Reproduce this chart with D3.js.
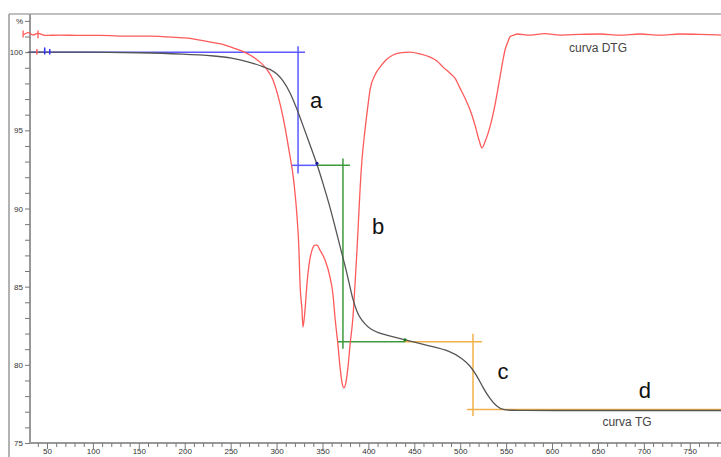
<!DOCTYPE html>
<html>
<head>
<meta charset="utf-8">
<script src="https://cdn.jsdelivr.net/npm/d3@7"></script>
<style>
  html, body { margin: 0; padding: 0; background: #fff; }
  svg { display: block; font-family: "Liberation Sans", Arial, sans-serif; }
</style>
</head>
<body>
<svg id="chart" width="721" height="457"></svg>
<script>
// ---------------- data ----------------
// TG curve: temperature (°C) and residual mass (%)
const tgTemp = [29, 50, 100, 150, 200, 235, 250, 271, 284, 293, 300.5, 307, 314.7, 322.3, 328.8, 336.5, 344, 350.6, 358.2, 364.7, 371.2, 377.8, 383.2, 387.6, 390.9, 396.3, 401.8, 410.5, 420.3, 439.9, 467.1, 488.9, 503, 510.7, 518.3, 524.8, 532.4, 540, 546.6, 555, 565, 600, 650, 700, 750, 784];
const tgMass = [100, 100, 100, 99.97, 99.88, 99.75, 99.65, 99.36, 99.1, 98.92, 98.62, 98.2, 97.45, 96.35, 95.3, 94.05, 92.85, 91.6, 90.1, 88.6, 87.1, 85.6, 84.1, 83.4, 83.0, 82.6, 82.3, 82.05, 81.9, 81.6, 81.2, 80.9, 80.38, 79.94, 79.3, 78.53, 77.82, 77.31, 77.12, 77.09, 77.08, 77.08, 77.08, 77.08, 77.08, 77.08];

// DTG curve: temperature (°C) and derivative (arbitrary units, 0 = baseline)
const dtgTemp = [24, 29.3, 34.8, 40.2, 47.8, 64.2, 85.9, 107.7, 140.4, 162.2, 180.7, 200.3, 216.6, 233, 243.9, 252.6, 262.4, 271.1, 277.6, 282, 287.4, 290.7, 296.1, 301.6, 307, 313.5, 319, 322.3, 324.4, 325.5, 327.7, 328.8, 331, 333.2, 335.3, 338.6, 341.9, 344, 347.3, 352.8, 358.2, 361.5, 363.6, 366.9, 369.1, 371.2, 373.4, 375.6, 377.8, 380, 383.2, 385.4, 387.6, 389.8, 390.9, 393, 396.3, 399.6, 401.8, 407.2, 412.7, 419.2, 426.8, 434.4, 445.3, 456.2, 467.1, 474.7, 481.3, 488.9, 494.3, 499.8, 505.2, 510.7, 516.1, 520.5, 523.7, 527, 532.4, 537.9, 543.3, 546.6, 548.8, 552, 554.2, 558.6, 561.8, 576, 592, 608.7, 630, 652.2, 674, 695.8, 717.6, 739.4, 761.3, 784];
const dtgVal = [-0.003, 0.004, -0.003, 0.002, -0.004, -0.003, -0.004, -0.004, -0.006, -0.006, -0.008, -0.011, -0.017, -0.025, -0.031, -0.039, -0.048, -0.059, -0.070, -0.079, -0.093, -0.104, -0.129, -0.174, -0.233, -0.326, -0.419, -0.514, -0.607, -0.699, -0.775, -0.823, -0.775, -0.699, -0.649, -0.607, -0.593, -0.593, -0.607, -0.635, -0.683, -0.733, -0.795, -0.874, -0.935, -0.978, -0.994, -0.978, -0.935, -0.874, -0.795, -0.705, -0.607, -0.494, -0.438, -0.354, -0.270, -0.199, -0.157, -0.115, -0.093, -0.073, -0.059, -0.053, -0.051, -0.056, -0.065, -0.076, -0.093, -0.110, -0.124, -0.152, -0.180, -0.213, -0.256, -0.298, -0.320, -0.303, -0.261, -0.199, -0.121, -0.073, -0.045, -0.022, -0.008, -0.003, 0.0, -0.003, 0.001, -0.003, -0.001, 0.0, -0.003, 0.0, -0.003, 0.0, -0.001, -0.003];

// Step construction lines (temperature, mass %)
const stepA = { color: "#5a5aff", h1: [[31.5, 100], [331, 100]], v: [[323.4, 100.38], [323.4, 92.24]], h2: [[315.7, 92.76], [344, 92.76]] };
const stepB = { color: "#3c9a3c", h1: [[344, 92.76], [380, 92.76]], v: [[372.3, 93.2], [372.3, 81.03]], h2: [[365.8, 81.47], [439.9, 81.47]] };
const stepC = { color: "#f2b04a", h1: [[439.9, 81.47], [523.7, 81.47]], v: [[513.9, 81.99], [513.9, 76.73]], h2: [[507.4, 77.15], [784, 77.15]] };
const steps = [stepA, stepB, stepC];

const stepLabels = ["a", "b", "c", "d"];
const stepLabelPos = [[343, 96.45], [410.5, 88.4], [546.6, 79.1], [701, 77.85]];

const yMajor = [75, 80, 85, 90, 95, 100];
const xMajor = [50, 100, 150, 200, 250, 300, 350, 400, 450, 500, 550, 600, 650, 700, 750];

// ---------------- scales ----------------
const svg = d3.select("#chart");
const x = d3.scaleLinear().domain([31.5, 784]).range([30, 721]);
const y = d3.scaleLinear().domain([75, 102.44]).range([443, 14]);
const yD = d3.scaleLinear().domain([0, -1]).range([34, 390]);

// frame
svg.append("line").attr("x1", 9).attr("y1", 14).attr("x2", 721).attr("y2", 14)
  .attr("stroke", "#aaa").attr("stroke-width", 1.5);
svg.append("line").attr("x1", 9).attr("y1", 14).attr("x2", 9).attr("y2", 457)
  .attr("stroke", "#999").attr("stroke-width", 1.5);

// ---------------- axes ----------------
const yTicks = d3.range(75, 103, 1);
const yAxis = d3.axisLeft(y).tickValues(yTicks).tickSize(5).tickPadding(2)
  .tickFormat(d => yMajor.includes(d) ? String(d) : (d === 102 ? "%" : ""));
const gy = svg.append("g").attr("transform", "translate(30,0)").call(yAxis);
gy.select(".domain").attr("stroke", "#999").attr("stroke-width", 2).attr("d", "M0,14V443");
gy.selectAll(".tick line").attr("stroke", "#777").attr("stroke-width", 1);
gy.selectAll(".tick text").attr("font-size", 8).attr("fill", "#333");

const xTicks = d3.range(40, 790, 10);
const xAxis = d3.axisBottom(x).tickValues(xTicks).tickSize(4).tickPadding(2)
  .tickFormat(d => xMajor.includes(d) ? String(d) : "");
const gx = svg.append("g").attr("transform", "translate(0,443)").call(xAxis);
gx.select(".domain").attr("stroke", "#999").attr("stroke-width", 2).attr("d", "M30,0H721");
gx.selectAll(".tick line").attr("stroke", "#777").attr("stroke-width", 1)
  .attr("y2", d => d % 50 === 0 ? 6 : 4);
gx.selectAll(".tick text").attr("font-size", 8).attr("fill", "#333").attr("dy", "0.6em");

// ---------------- step lines ----------------
const seg = d3.line().x(d => x(d[0])).y(d => y(d[1]));
steps.forEach(s => {
  [s.h1, s.v, s.h2].forEach(p => {
    svg.append("path").attr("d", seg(p)).attr("fill", "none")
      .attr("stroke", s.color).attr("stroke-width", 1.5);
  });
});

// ---------------- DTG ----------------
const dtgData = dtgTemp.map((t, i) => [t, dtgVal[i]]);
svg.append("path")
  .attr("d", d3.line().x(d => x(d[0])).y(d => yD(d[1])).curve(d3.curveMonotoneX)(dtgData))
  .attr("fill", "none").attr("stroke", "#ff5a5a").attr("stroke-width", 1.3);

// start markers on DTG
[[24, -0.01, 0.01], [40.2, -0.012, 0.01]].forEach(m => {
  svg.append("line").attr("x1", x(m[0])).attr("x2", x(m[0]))
    .attr("y1", yD(m[1])).attr("y2", yD(m[2])).attr("stroke", "#ff5a5a").attr("stroke-width", 1.3);
});

// ---------------- TG ----------------
const tgData = tgTemp.map((t, i) => [t, tgMass[i]]);
svg.append("path")
  .attr("d", d3.line().x(d => x(d[0])).y(d => y(d[1])).curve(d3.curveBasis)(tgData))
  .attr("fill", "none").attr("stroke", "#555").attr("stroke-width", 1.3);

// start markers on TG
[[39, "#ff5a5a", 0.2], [47.5, "#3333ff", 0.3], [53, "#3333ff", 0.2]].forEach(m => {
  svg.append("line").attr("x1", x(m[0])).attr("x2", x(m[0]))
    .attr("y1", y(100 + m[2])).attr("y2", y(100 - 0.15)).attr("stroke", m[1]).attr("stroke-width", 1.5);
});

// step points
[[344, 92.88, "#1a1a9a"], [439.9, 81.6, "#1f7a1f"]].forEach(p => {
  svg.append("circle").attr("cx", x(p[0])).attr("cy", y(p[1])).attr("r", 1.6).attr("fill", p[2]);
});

// ---------------- labels ----------------
stepLabels.forEach((l, i) => {
  svg.append("text").attr("x", x(stepLabelPos[i][0])).attr("y", y(stepLabelPos[i][1]))
    .attr("text-anchor", "middle").attr("font-size", 22).attr("fill", "#111").text(l);
});
svg.append("text").attr("x", 598).attr("y", 52).attr("text-anchor", "middle")
  .attr("font-size", 12).attr("fill", "#444").text("curva DTG");
svg.append("text").attr("x", 627).attr("y", 426).attr("text-anchor", "middle")
  .attr("font-size", 12).attr("fill", "#444").text("curva TG");
</script>
</body>
</html>
